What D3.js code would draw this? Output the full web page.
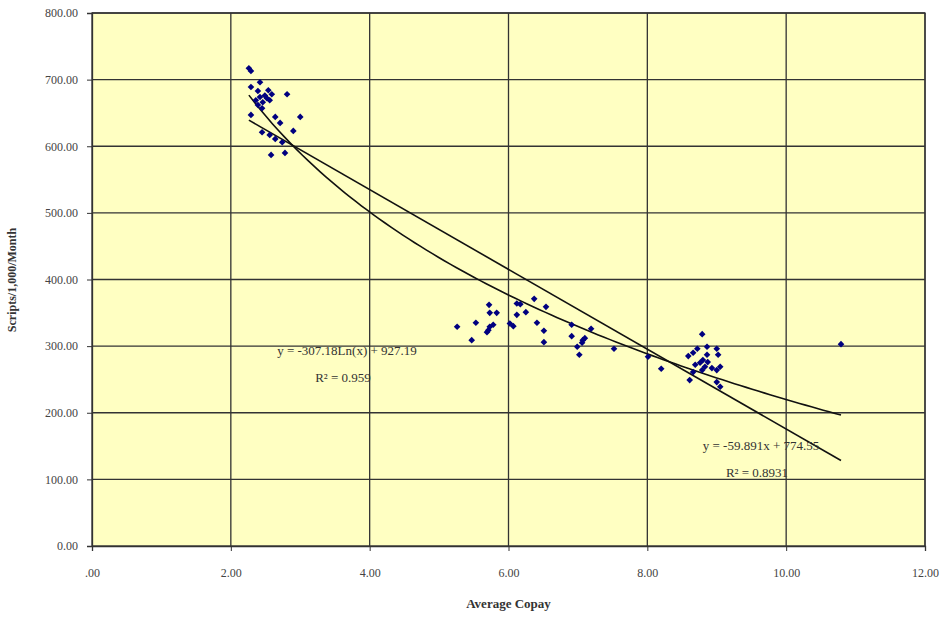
<!DOCTYPE html>
<html lang="en">
<head>
<meta charset="UTF-8">
<title>Scripts vs Average Copay</title>
<script src="https://d3js.org/d3.v7.min.js"></script>
<style>
  body { margin: 0; background: #fff; }
  text { font-family: "Liberation Serif", "Times New Roman", serif; }
</style>
</head>
<body>
<svg id="chart" width="946" height="618"></svg>
<script>
// average copay (x) and scripts per 1,000 per month (y)
var copay = [
  2.26, 2.29, 2.42, 2.29, 2.39, 2.42, 2.59, 2.81, 2.46, 2.52, 2.39, 2.45, 2.29,
  2.64, 3.00, 2.71, 2.45, 2.90, 2.56, 2.64, 2.74, 2.58, 2.78, 2.49, 2.56, 2.36, 2.54,
  5.26, 5.47, 5.53, 5.72, 5.73, 5.83, 5.78, 5.73, 5.69, 5.71, 6.02, 6.07, 6.12,
  6.17, 6.12, 6.25, 6.37, 6.54, 6.41, 6.51, 6.51,
  6.91, 6.91, 7.19, 7.07, 7.10, 7.06, 6.99, 7.02, 7.52,
  8.01, 8.20, 8.79, 8.66, 8.59, 8.72, 8.86, 9.00, 9.02, 8.80, 8.87, 8.76, 8.69,
  8.83, 8.93, 9.05, 9.00, 8.66, 8.61, 9.00, 9.05, 8.79, 8.86,
  10.79
];
var scripts = [
  717, 713, 696, 689, 683, 674, 678, 678, 666, 672, 662, 657, 647,
  644, 644, 635, 621, 623, 617, 611, 606, 587, 590, 676, 669, 669, 684,
  329, 309, 335, 362, 350, 350, 332, 329, 321, 324, 334, 330, 364,
  363, 347, 351, 371, 359, 335, 323, 306,
  332, 315, 326, 309, 312, 305, 299, 287, 296,
  284, 266, 318, 290, 285, 296, 299, 296, 287, 279, 276, 275, 272,
  269, 267, 269, 264, 261, 249, 246, 239, 264, 287,
  303
];

// trendline coefficients as printed on the chart
var logFit = { a: -307.18, b: 927.19 };   // y = a*ln(x) + b
var linFit = { m: -59.891, c: 774.55 };   // y = m*x + c
var logLabel = ["y = -307.18Ln(x) + 927.19", "R² = 0.959"];
var linLabel = ["y = -59.891x + 774.55", "R² = 0.8931"];

var xTicks = [0, 2, 4, 6, 8, 10, 12];
var yTicks = [0, 100, 200, 300, 400, 500, 600, 700, 800];

(function() {
var svg = d3.select("#chart");
var pl = 92, pr = 925, pt = 13, pb = 546;

var x = d3.scaleLinear().domain([0, 12]).range([pl, pr]);
var y = d3.scaleLinear().domain([0, 800]).range([pb, pt]);

svg.append("rect")
  .attr("x", pl).attr("y", pt)
  .attr("width", pr - pl).attr("height", pb - pt)
  .attr("fill", "#ffffc2");

// grid
svg.append("g").selectAll("line").data(yTicks.slice(1)).enter().append("line")
  .attr("x1", pl).attr("x2", pr)
  .attr("y1", d => y(d)).attr("y2", d => y(d))
  .attr("stroke", "#333").attr("stroke-width", 1.3);
svg.append("g").selectAll("line").data(xTicks.slice(1)).enter().append("line")
  .attr("y1", pt).attr("y2", pb)
  .attr("x1", d => x(d)).attr("x2", d => x(d))
  .attr("stroke", "#333").attr("stroke-width", 1.3);

// axes
var fmt = function(d) { return d === 0 ? ".00" : d3.format(".2f")(d); };
var xAxis = svg.append("g").attr("transform", "translate(0," + pb + ")")
  .call(d3.axisBottom(x).tickValues(xTicks).tickFormat(fmt).tickSize(5).tickPadding(17));
var yAxis = svg.append("g").attr("transform", "translate(" + pl + ",0)")
  .call(d3.axisLeft(y).tickValues(yTicks).tickFormat(d3.format(".2f")).tickSize(5).tickPadding(9));
[xAxis, yAxis].forEach(function(a) {
  a.select(".domain").attr("stroke", "#333").attr("stroke-width", 1.3);
  a.selectAll(".tick line").attr("stroke", "#333");
  a.selectAll("text").attr("font-family", "Liberation Serif, serif")
    .attr("font-size", 12).attr("fill", "#444");
});

svg.append("rect")
  .attr("x", pl).attr("y", pt)
  .attr("width", pr - pl).attr("height", pb - pt)
  .attr("fill", "none").attr("stroke", "#333").attr("stroke-width", 1.3);

// trendlines over the data range
var xmin = d3.min(copay), xmax = d3.max(copay);
var xs = d3.range(0, 101).map(i => xmin + (xmax - xmin) * i / 100);
var line = d3.line().x(d => x(d[0])).y(d => y(d[1]));
svg.append("path")
  .datum(xs.map(v => [v, logFit.a * Math.log(v) + logFit.b]))
  .attr("d", line).attr("fill", "none").attr("stroke", "#111").attr("stroke-width", 1.6);
svg.append("path")
  .datum([xmin, xmax].map(v => [v, linFit.m * v + linFit.c]))
  .attr("d", line).attr("fill", "none").attr("stroke", "#111").attr("stroke-width", 1.6);

// points (square turned 45deg gives an even diamond)
var pts = copay.map((c, i) => [c, scripts[i]]);
svg.append("g").selectAll("path").data(pts).enter().append("path")
  .attr("d", d3.symbol().type(d3.symbolSquare).size(22))
  .attr("transform", d => "translate(" + x(d[0]) + "," + y(d[1]) + ") rotate(45)")
  .attr("fill", "#00007f");

// equation labels
function eqLabel(lines, cx, cy) {
  var g = svg.append("g").attr("font-size", 13).attr("fill", "#333")
    .attr("text-anchor", "middle");
  g.append("text").attr("x", cx).attr("y", cy).text(lines[0]);
  g.append("text").attr("x", cx - 4).attr("y", cy + 27).text(lines[1]);
}
eqLabel(logLabel, 347, 355);
eqLabel(linLabel, 761, 450);

// axis titles
svg.append("text").attr("x", (pl + pr) / 2).attr("y", 608)
  .attr("text-anchor", "middle").attr("font-size", 13).attr("font-weight", "bold")
  .attr("fill", "#333").text("Average Copay");
svg.append("text").attr("transform", "translate(16,280) rotate(-90)")
  .attr("text-anchor", "middle").attr("font-size", 12).attr("font-weight", "bold")
  .attr("fill", "#333").text("Scripts/1,000/Month");
})();
</script>
</body>
</html>
